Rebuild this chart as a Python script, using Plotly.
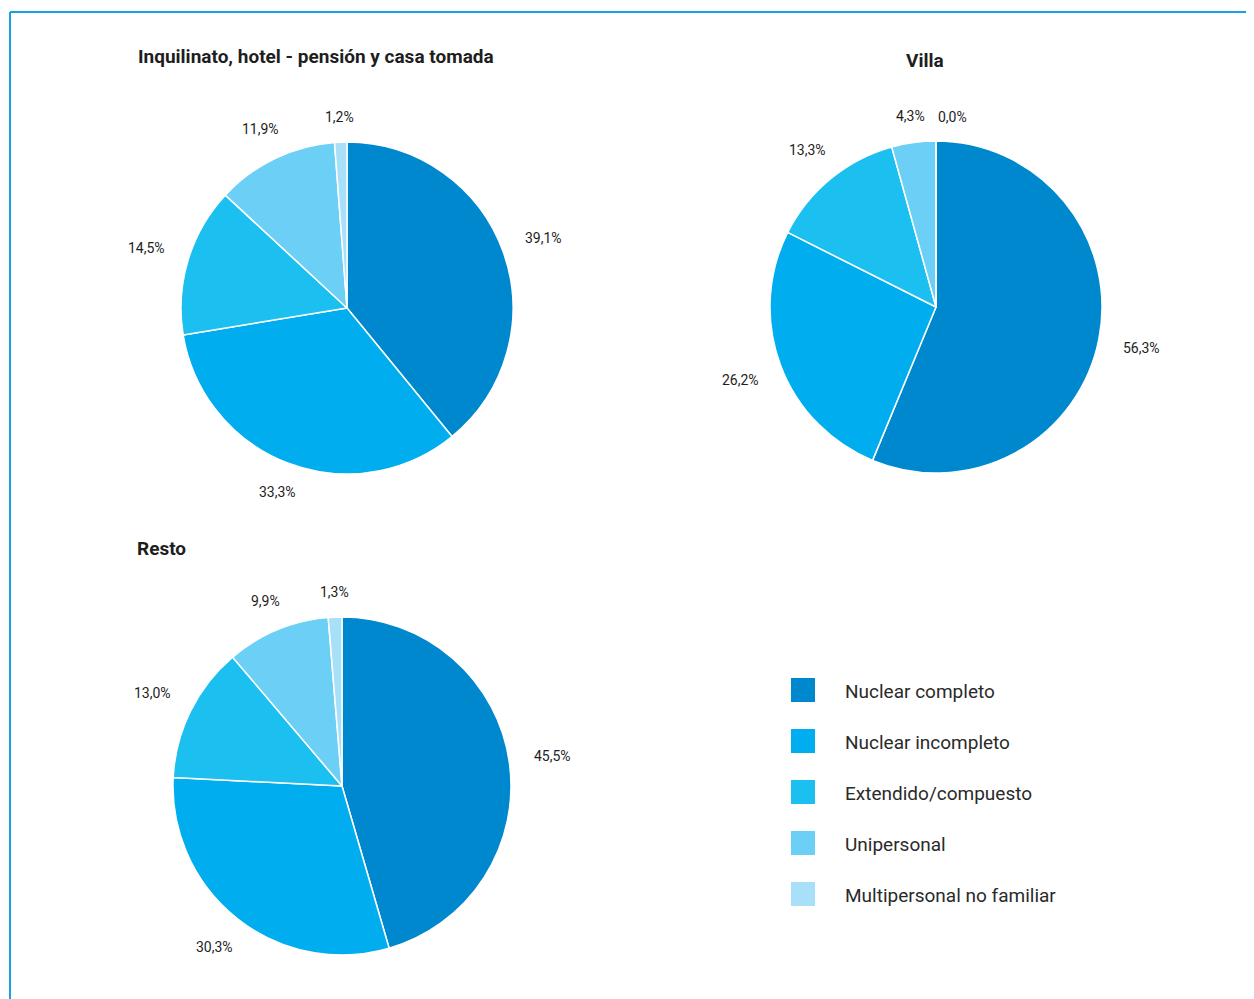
import math
import plotly.graph_objects as go

# ---- data ----
categories = ["Nuclear completo", "Nuclear incompleto", "Extendido/compuesto",
              "Unipersonal", "Multipersonal no familiar"]
inquilinato = [39.1, 33.3, 14.5, 11.9, 1.2]
villa = [56.3, 26.2, 13.3, 4.3, 0.0]
resto = [45.5, 30.3, 13.0, 9.9, 1.3]
pie_titles = ["Inquilinato, hotel - pensión y casa tomada", "Villa", "Resto"]

# ---- style ----
colors = ["#0088CF", "#00ADEE", "#1BBFF0", "#6BCFF6", "#A9E0F9"]
W, H = 1254, 999
OFF = 8  # page body margin
FONT = "Roboto"
TXT = "#1e1e1e"

# pie layout: (centre x px, centre y px, radius px) in page pixels
geoms = [(347, 308, 166), (936, 307, 166), (342, 786, 169)]
# title positions: (x px, y px, xanchor)
title_pos = [(136, 56, "left"), (925, 60, "center"), (135, 548, "left")]
gap_base, gap_side = 24, 20


def px(x):
    return (x - OFF) / W


def py(y):
    return 1 - (y - OFF) / H


def fmt(v):
    return f"{v:.1f}".replace(".", ",") + "%"


fig = go.Figure()
annotations = []
series = [inquilinato, villa, resto]

for vals, (cx, cy, r), title, (tx, ty, ta) in zip(series, geoms, pie_titles, title_pos):
    fig.add_trace(go.Pie(
        labels=categories, values=vals, sort=False, direction="clockwise",
        rotation=0, marker=dict(colors=colors, line=dict(color="white", width=1.5)),
        textinfo="none", hoverinfo="label+value", showlegend=False,
        domain=dict(x=[px(cx - r), px(cx + r)], y=[py(cy + r), py(cy - r)]),
    ))
    total = sum(vals)
    cum = 0.0
    for v in vals:
        ang = ((cum + v / 2) / total) * 2 * math.pi
        ang = ang % (2 * math.pi)
        cum += v
        gap = gap_base + gap_side * abs(math.sin(ang))
        lx = cx + (r + gap) * math.sin(ang)
        ly = cy - (r + gap) * math.cos(ang)
        xa = "center"
        if v == 0:
            xa = "left"
            lx = cx
        annotations.append(dict(
            x=px(lx), y=py(ly), xref="paper", yref="paper", text=fmt(v),
            showarrow=False, xanchor=xa, yanchor="middle",
            font=dict(family=FONT, size=14, color=TXT)))
    annotations.append(dict(
        x=px(tx), y=py(ty), xref="paper", yref="paper", text=f"<b>{title}</b>",
        showarrow=False, xanchor=ta, yanchor="middle",
        font=dict(family=FONT, size=19, color=TXT)))

# ---- manual legend ----
shapes = []
leg_x, leg_y0, leg_dy, sq = 791, 690, 51, 24
for i, (cat, col) in enumerate(zip(categories, colors)):
    yc = leg_y0 + i * leg_dy
    shapes.append(dict(type="rect", xref="paper", yref="paper",
                       x0=px(leg_x), x1=px(leg_x + sq),
                       y0=py(yc + sq / 2), y1=py(yc - sq / 2),
                       fillcolor=col, line=dict(width=0)))
    annotations.append(dict(
        x=px(843), y=py(yc + 1), xref="paper", yref="paper", text=cat,
        showarrow=False, xanchor="left", yanchor="middle",
        font=dict(family=FONT, size=19, color="#2a2a2a")))

# ---- frame lines (top and left) ----
frame_col = "#1BA1E2"
shapes.append(dict(type="line", xref="paper", yref="paper",
                   x0=px(10), x1=1, y0=py(12), y1=py(12),
                   line=dict(color=frame_col, width=2)))
shapes.append(dict(type="line", xref="paper", yref="paper",
                   x0=px(10), x1=px(10), y0=py(12), y1=0,
                   line=dict(color=frame_col, width=2)))

fig.update_layout(
    width=W, height=H, margin=dict(l=0, r=0, t=0, b=0),
    paper_bgcolor="white", plot_bgcolor="white",
    annotations=annotations, shapes=shapes, showlegend=False,
    font=dict(family=FONT),
)

fig.write_html("out.html")
